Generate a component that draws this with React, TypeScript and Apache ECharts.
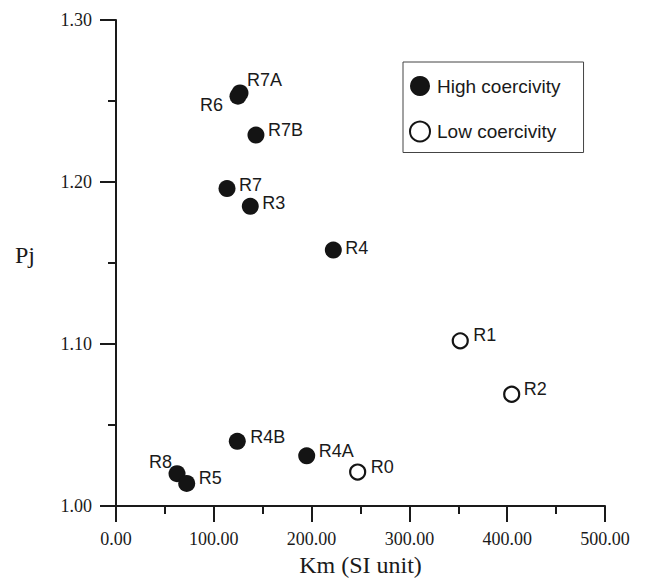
import React, { useEffect, useRef } from "react";
import * as echarts from "echarts";

const highNames = ["R7A", "R6", "R7B", "R7", "R3", "R4", "R4B", "R4A", "R8", "R5"];
const highKm = [126.8, 124.7, 143.1, 113.5, 137.3, 222.2, 124.0, 195.0, 62.4, 72.3];
const highPj = [1.255, 1.253, 1.229, 1.196, 1.185, 1.158, 1.04, 1.031, 1.02, 1.014];

const lowNames = ["R0", "R1", "R2"];
const lowKm = [247.1, 352.0, 404.6];
const lowPj = [1.021, 1.102, 1.069];

const xTicks = [0, 100, 200, 300, 400, 500];
const yTicks = [1.0, 1.1, 1.2, 1.3];

// label placement: [align, dx, dy]
const labelPlace: Record<string, [string, number, number]> = {
  R7A: ["left", 7, -13],
  R6: ["right", -15, 8.5],
  R7B: ["left", 12, -5],
  R7: ["left", 12, -4],
  R3: ["left", 12, -3],
  R4: ["left", 12, -2.5],
  R4B: ["left", 13, -4],
  R4A: ["left", 12, -4.5],
  R8: ["right", -5, -12],
  R5: ["left", 12, -5],
  R0: ["left", 13, -5.5],
  R1: ["left", 13, -5.5],
  R2: ["left", 12, -5.5],
};

function buildData(names: string[], xs: number[], ys: number[]) {
  return names.map((n, i) => {
    const p = labelPlace[n];
    return {
      name: n,
      value: [xs[i], ys[i]],
      label: {
        show: true,
        position: "inside",
        align: p[0],
        verticalAlign: "middle",
        offset: [p[1], p[2]],
        formatter: n,
      },
    };
  });
}

export default function App() {
  const ref = useRef<HTMLDivElement>(null);
  useEffect(() => {
    if (!ref.current) return;
    const chart = echarts.init(ref.current, undefined, { renderer: "svg" });
    const axisColor = "#1a1a1a";
    const serif = "'Liberation Serif', 'Times New Roman', serif";
    const sans = "'Liberation Sans', Arial, sans-serif";
    const labelStyle = {
      color: "#1a1a1a",
      fontFamily: sans,
      fontSize: 18,
    };
    chart.setOption({
      animation: false,
      backgroundColor: "#ffffff",
      grid: { left: 116, top: 20, width: 489, height: 488, containLabel: false },
      xAxis: {
        type: "value",
        min: xTicks[0],
        max: xTicks[xTicks.length - 1],
        interval: 100,
        name: "Km (SI unit)",
        nameLocation: "middle",
        nameGap: 45,
        nameTextStyle: { fontFamily: serif, fontSize: 24, color: axisColor },
        axisLine: { show: true, onZero: false, lineStyle: { color: axisColor, width: 2 } },
        axisTick: { show: true, length: 16, inside: false, lineStyle: { color: axisColor, width: 2 } },
        minorTick: { show: true, splitNumber: 2, length: 8, lineStyle: { color: axisColor, width: 2 } },
        axisLabel: {
          margin: 24,
          fontFamily: serif,
          fontSize: 18,
          color: axisColor,
          formatter: (v: number) => v.toFixed(2),
        },
        splitLine: { show: false },
      },
      yAxis: {
        type: "value",
        min: yTicks[0],
        max: yTicks[yTicks.length - 1],
        interval: 0.1,
        axisLine: { show: true, onZero: false, lineStyle: { color: axisColor, width: 2 } },
        axisTick: { show: true, length: 16, inside: false, lineStyle: { color: axisColor, width: 2 } },
        minorTick: { show: true, splitNumber: 2, length: 8, lineStyle: { color: axisColor, width: 2 } },
        axisLabel: {
          margin: 24,
          fontFamily: serif,
          fontSize: 18,
          color: axisColor,
          formatter: (v: number) => v.toFixed(2),
        },
        splitLine: { show: false },
      },
      graphic: [
        {
          type: "text",
          left: 15,
          top: 243,
          style: { text: "Pj", font: `24px ${serif}`, fill: axisColor },
        },
      ],
      legend: {
        show: true,
        orient: "vertical",
        left: 403,
        top: 62,
        padding: [14, 23, 10, 6],
        itemGap: 24.5,
        itemWidth: 20,
        itemHeight: 20,
        borderColor: "#444",
        borderWidth: 1,
        borderRadius: 0,
        backgroundColor: "#fff",
        textStyle: { fontFamily: sans, fontSize: 19, color: "#1a1a1a", padding: [0, 0, 0, 2] },
        data: [
          { name: "High coercivity", icon: "circle" },
          { name: "Low coercivity", icon: "circle" },
        ],
      },
      series: [
        {
          name: "High coercivity",
          type: "scatter",
          symbol: "circle",
          symbolSize: 17,
          itemStyle: { color: "#141414", opacity: 1 },
          label: labelStyle,
          data: buildData(highNames, highKm, highPj),
        },
        {
          name: "Low coercivity",
          type: "scatter",
          symbol: "circle",
          symbolSize: 15,
          itemStyle: { color: "#ffffff", borderColor: "#141414", borderWidth: 2.2, opacity: 1 },
          label: labelStyle,
          data: buildData(lowNames, lowKm, lowPj),
        },
      ],
    });
    return () => chart.dispose();
  }, []);
  return <div ref={ref} style={{ width: 648, height: 582, position: "absolute", left: 0, top: 0 }} />;
}
